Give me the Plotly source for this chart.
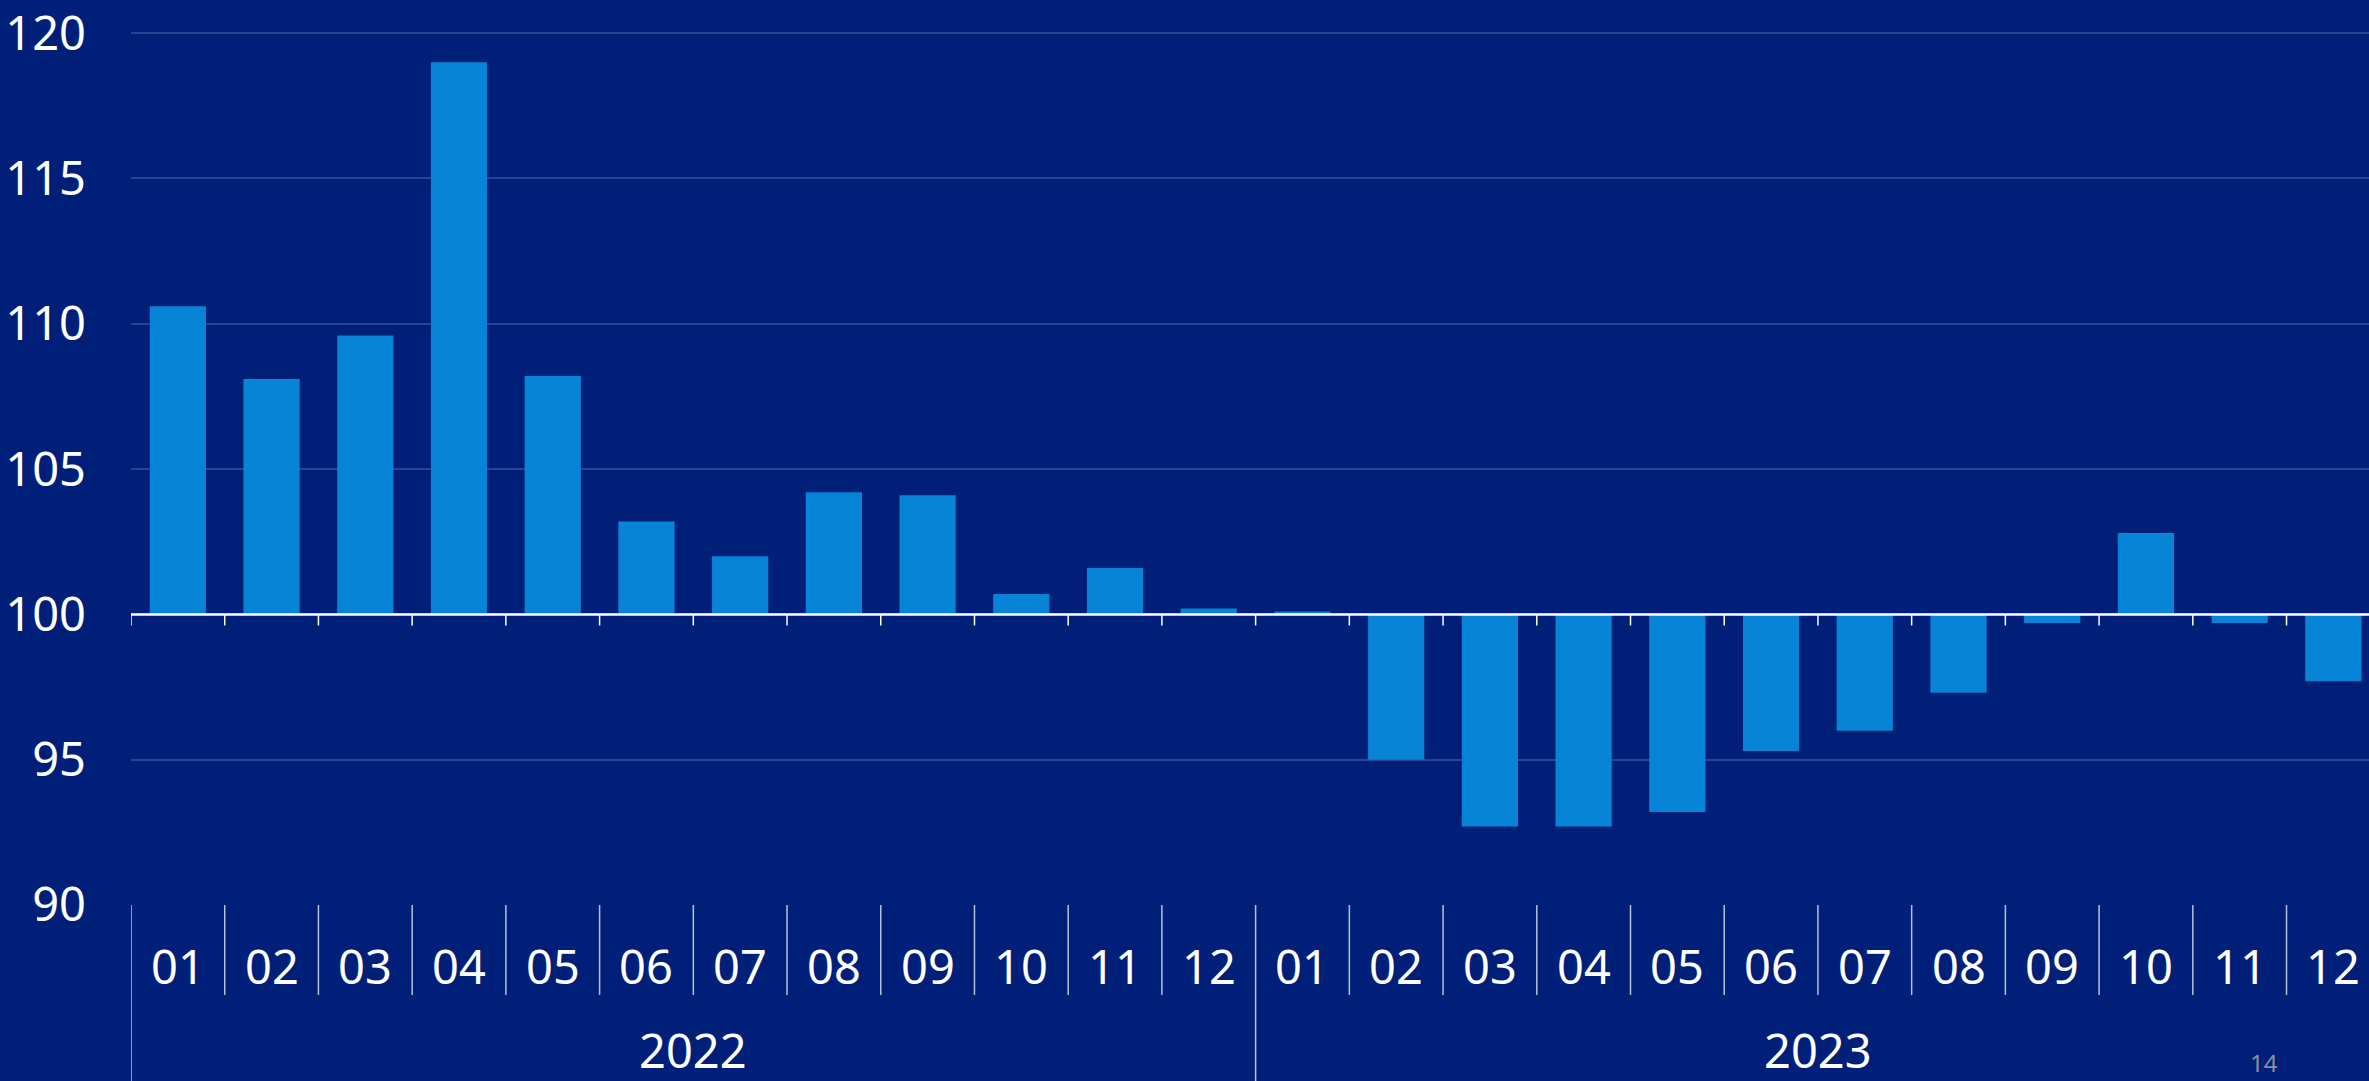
import plotly.graph_objects as go

# monthly index values, base = 100
years = ["2022", "2023"]
months = ["01", "02", "03", "04", "05", "06", "07", "08", "09", "10", "11", "12"]
values_2022 = [110.6, 108.1, 109.6, 119.0, 108.2, 103.2, 102.0, 104.2, 104.1, 100.7, 101.6, 100.2]
values_2023 = [100.1, 95.0, 92.7, 92.7, 93.2, 95.3, 96.0, 97.3, 99.7, 102.8, 99.7, 97.7]
y_ticks = [90, 95, 100, 105, 110, 115, 120]
page_number = "14"

BG = "#001F78"
BAR = "#0784D6"
GRID = "#2B4192"
DIVIDER = "#B9C0DA"
FONT = "Noto Sans"

values = values_2022 + values_2023
labels = months * len(years)
xpos = list(range(len(values)))
base = 100

fig = go.Figure()
fig.add_trace(go.Bar(
    x=xpos, y=[v - base for v in values], base=base,
    marker=dict(color=BAR, line=dict(width=0)),
    width=0.6, hovertext=[f"{years[i // 12]}-{labels[i]}: {v}" for i, v in enumerate(values)],
    hoverinfo="text",
))

shapes = []
# white base line at 100 with small ticks at category boundaries
shapes.append(dict(type="line", xref="paper", yref="y", x0=0, x1=1, y0=base, y1=base,
                   line=dict(color="white", width=2.5)))
for i in range(len(values)):
    shapes.append(dict(type="line", xref="x", yref="y", x0=i - 0.5, x1=i - 0.5,
                       y0=base, y1=base - 0.38, line=dict(color="white", width=1.5)))

# category dividers below the plot
for i in range(len(values) + 1):
    full = i % 12 == 0
    shapes.append(dict(type="line", xref="x", yref="paper", x0=i - 0.5, x1=i - 0.5,
                       y0=0, y1=-0.205 if full else -0.103,
                       line=dict(color=DIVIDER, width=1.5)))

annotations = []
for i, m in enumerate(labels):
    annotations.append(dict(x=i, xref="x", y=0, yref="paper", yshift=-61, yanchor="middle",
                            text=m, showarrow=False, font=dict(size=47, color="white", family=FONT)))
for j, yr in enumerate(years):
    annotations.append(dict(x=j * 12 + 5.5, xref="x", y=0, yref="paper", yshift=-145,
                            yanchor="middle", text=yr, showarrow=False,
                            font=dict(size=47, color="white", family=FONT)))
annotations.append(dict(x=0.9604, xref="paper", y=0, yref="paper", yshift=-176, yanchor="bottom",
                        text=page_number, showarrow=False,
                        font=dict(size=24, color="#8A8E9E", family=FONT)))

fig.update_layout(
    width=2369, height=1081,
    margin=dict(l=131, r=0, t=30, b=176),
    paper_bgcolor=BG, plot_bgcolor=BG,
    showlegend=False,
    shapes=shapes, annotations=annotations,
    font=dict(family=FONT, color="white", size=47),
    xaxis=dict(range=[-0.5, 23.38], showticklabels=False, showgrid=False, zeroline=False,
               showline=False, ticks=""),
    yaxis=dict(range=[90, 120.04], tickvals=y_ticks, showgrid=True, gridcolor=GRID, gridwidth=1.5,
               zeroline=False, showline=False, ticks="", ticklabelstandoff=44,
               ticklabeloverflow="allow",
               tickfont=dict(size=47, color="white", family=FONT)),
)

fig.write_html("out.html", config={"displayModeBar": False},
               post_script="document.body.style.margin='0';"
               "document.body.style.background='" + BG + "';")
